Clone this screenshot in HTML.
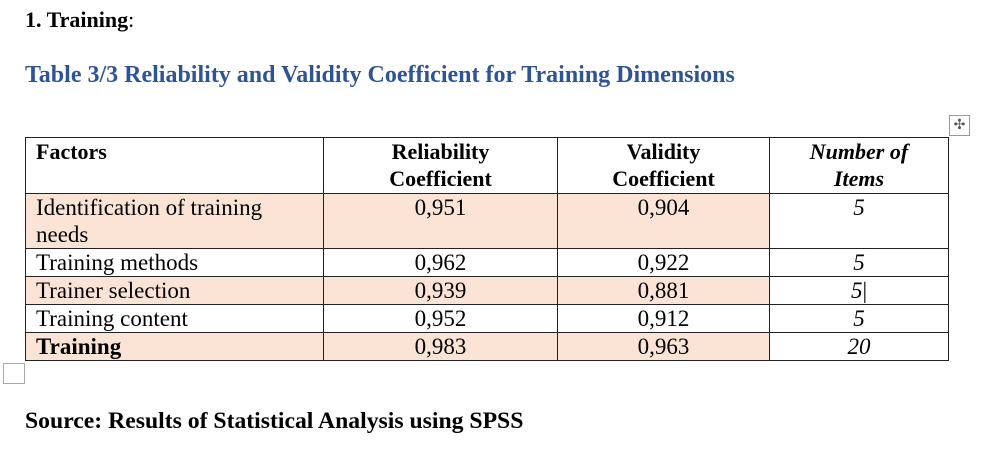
<!DOCTYPE html>
<html><head><meta charset="utf-8"><style>
body{margin:0;width:1000px;height:461px;background:#fff;font-family:"Liberation Serif",serif;color:#000;position:relative;overflow:hidden}
.abs{position:absolute;white-space:nowrap}
table{position:absolute;left:25px;top:137px;border-collapse:collapse;font-size:23px;table-layout:fixed}
td{border:1px solid #222;padding:0 10px;vertical-align:top;line-height:27px;white-space:nowrap;overflow:hidden}
td.c{text-align:center}
.sh{background:#fbe4d5}
.i{font-style:italic}
.b{font-weight:bold}
.h{font-size:22px}
</style></head><body>
<div class="abs b" style="left:25px;top:7px;font-size:22px">1. Training<span style="font-weight:normal">:</span></div>
<div class="abs b" style="left:25px;top:62px;font-size:24px;color:#2f5496">Table 3/3 Reliability and Validity Coefficient for Training Dimensions</div>
<div class="abs" style="left:949px;top:115px;width:19px;height:19px;border:1px solid #999;font-size:14px;line-height:19px;text-align:center;color:#555">✣</div>
<table>
<colgroup><col style="width:298px"><col style="width:234px"><col style="width:212px"><col style="width:179px"></colgroup>
<tr style="height:56px"><td class="b h">Factors</td><td class="c b h">Reliability<br>Coefficient</td><td class="c b h">Validity<br>Coefficient</td><td class="c b i h">Number of<br>Items</td></tr>
<tr style="height:55px"><td class="sh">Identification of training<br>needs</td><td class="c sh">0,951</td><td class="c sh">0,904</td><td class="c i">5</td></tr>
<tr style="height:28px"><td>Training methods</td><td class="c">0,962</td><td class="c">0,922</td><td class="c i">5</td></tr>
<tr style="height:28px"><td class="sh">Trainer selection</td><td class="c sh">0,939</td><td class="c sh">0,881</td><td class="c i">5<span style="font-style:normal">|</span></td></tr>
<tr style="height:28px"><td>Training content</td><td class="c">0,952</td><td class="c">0,912</td><td class="c i">5</td></tr>
<tr style="height:28px"><td class="sh b">Training</td><td class="c sh">0,983</td><td class="c sh">0,963</td><td class="c i">20</td></tr>
</table>
<div class="abs" style="left:3px;top:363px;width:20px;height:19px;border:1px solid #aaa"></div>
<div class="abs b" style="left:25px;top:408px;font-size:23.7px">Source: Results of Statistical Analysis using SPSS</div>
</body></html>
